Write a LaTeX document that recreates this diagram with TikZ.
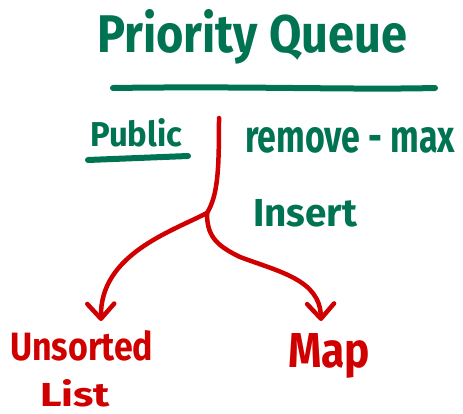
\documentclass[tikz,border=0pt]{standalone}
\usepackage{fontspec}
\setmainfont{Fira Sans}
\usetikzlibrary{arrows.meta}
\definecolor{pqgreen}{RGB}{0,115,82}
\definecolor{pqred}{RGB}{208,0,0}
\newcommand{\fitbox}[3]{\resizebox{#1}{#2}{\bfseries #3}}
\begin{document}
\begin{tikzpicture}[x=1pt,y=-1pt,
  lbl/.style={inner sep=0pt, anchor=base west},
  gtext/.style={lbl, text=pqgreen},
  rtext/.style={lbl, text=pqred},
  gline/.style={draw=pqgreen, line width=6pt, line cap=round},
  rline/.style={draw=pqred, line width=4.5pt, line cap=round, line join=round},
  tiparrow/.style={-{Straight Barb[length=15pt,width=27pt,round]}}]
\fill[white] (0,0) rectangle (463,414);
\clip (0,0) rectangle (463,414);
% green texts
\node[gtext] (title) at (97,53) {\fitbox{310pt}{43pt}{Priority Queue}};
\draw[gline] (113,88) .. controls (250,86) and (350,90) .. (435,88);
\node[gtext] (public) at (90,147) {\fitbox{92pt}{28pt}{Public}};
\draw[gline] (88,160) -- (188,156);
\node[gtext] (remove) at (245,153) {\fitbox{210pt}{25pt}{remove - max}};
\node[gtext] (insert) at (253,227) {\fitbox{104pt}{27pt}{Insert}};
% red texts
\node[rtext] (unsorted) at (10,360) {\fitbox{143pt}{30pt}{Unsorted}};
\node[rtext] (list) at (40,406) {\fitbox{70pt}{27pt}{List}};
\node[rtext] (map) at (288,367) {\fitbox{82pt}{34pt}{Map}};
% tree
\coordinate (top) at (219,118);
\coordinate (fork) at (207,213);
\coordinate (ltip) at (101,321);
\coordinate (rmid) at (240,257);
\coordinate (rtip) at (321,321);
\draw[rline] (top) .. controls (219,170) and (218,195) .. (fork);
\draw[rline, tiparrow] (fork) .. controls (170,232) and (100,255) .. (ltip);
\draw[rline, tiparrow] (fork) .. controls (207,235) and (215,245) .. (rmid)
  .. controls (280,272) and (320,280) .. (rtip);
\end{tikzpicture}
\end{document}
